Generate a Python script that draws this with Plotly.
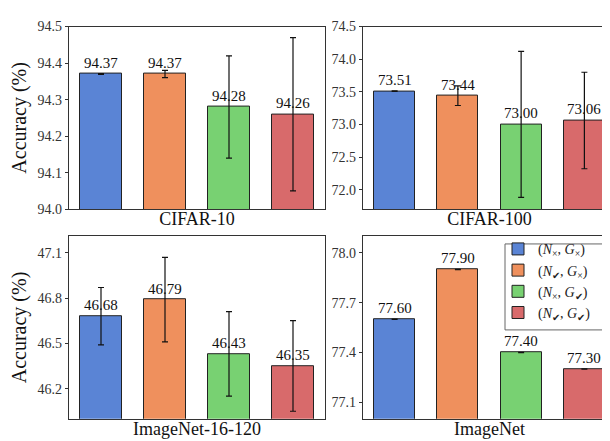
import plotly.graph_objects as go

W, H = 610, 441

datasets = ["CIFAR-10", "CIFAR-100", "ImageNet-16-120", "ImageNet"]
configs = ["(<i>N</i><sub>×</sub>, <i>G</i><sub>×</sub>)",
           "(<i>N</i><sub>✔</sub>, <i>G</i><sub>×</sub>)",
           "(<i>N</i><sub>×</sub>, <i>G</i><sub>✔</sub>)",
           "(<i>N</i><sub>✔</sub>, <i>G</i><sub>✔</sub>)"]
colors = ["#5a84d5", "#ef905d", "#78d172", "#d86a6b"]

cifar10_mean = [94.37, 94.37, 94.28, 94.26]
cifar10_std = [0.001, 0.01, 0.14, 0.21]
cifar100_mean = [73.51, 73.44, 73.00, 73.06]
cifar100_std = [0.005, 0.15, 1.12, 0.74]
in16_mean = [46.68, 46.79, 46.43, 46.35]
in16_std = [0.19, 0.28, 0.28, 0.30]
imagenet_mean = [77.60, 77.90, 77.40, 77.30]
imagenet_std = [0.001, 0.001, 0.001, 0.001]

means = [cifar10_mean, cifar100_mean, in16_mean, imagenet_mean]
stds = [cifar10_std, cifar100_std, in16_std, imagenet_std]
yranges = [[94.0, 94.5], [71.7, 74.5], [46.0, 47.21], [77.0, 78.1]]
ytickvals = [[94.0, 94.1, 94.2, 94.3, 94.4, 94.5],
             [72.0, 72.5, 73.0, 73.5, 74.0, 74.5],
             [46.2, 46.5, 46.8, 47.1],
             [77.1, 77.4, 77.7, 78.0]]

# panel pixel boxes (x0, x1, ytop, ybottom)
boxes = [(61, 317, 12, 201), (355, 608, 12, 201),
         (61, 317, 229, 418), (355, 608, 229, 418)]

FONT = "Liberation Serif"

fig = go.Figure()
layout = dict(width=W, height=H, margin=dict(l=0, r=0, t=0, b=0),
              paper_bgcolor="white", plot_bgcolor="white",
              font=dict(family=FONT, color="#222"),
              barmode="overlay", bargap=0)
annotations = []

for p in range(4):
    xa = "x" if p == 0 else f"x{p+1}"
    ya = "y" if p == 0 else f"y{p+1}"
    for i in range(4):
        fig.add_trace(go.Bar(
            x=[i], y=[means[p][i]], width=0.65,
            marker=dict(color=colors[i], line=dict(color="#222", width=1)),
            error_y=dict(type="data", array=[stds[p][i]], visible=True,
                         color="#111", thickness=1.2, width=3),
            name=configs[i], legendgroup=configs[i],
            showlegend=(p == 0),
            xaxis=xa, yaxis=ya,
        ))
        annotations.append(dict(x=i, y=means[p][i], xref=xa, yref=ya,
                                text=f"{means[p][i]:.2f}", showarrow=False,
                                yanchor="bottom", yshift=1,
                                font=dict(family=FONT, size=15, color="#111")))
    x0, x1, yt, yb = boxes[p]
    xkey = "xaxis" if p == 0 else f"xaxis{p+1}"
    ykey = "yaxis" if p == 0 else f"yaxis{p+1}"
    layout[xkey] = dict(domain=[x0 / W, x1 / W], range=[-0.5, 3.5],
                        showticklabels=False, ticks="", showgrid=False,
                        zeroline=False, showline=True, linecolor="#333",
                        linewidth=1.2, mirror=True, anchor=ya,
                        title=dict(text=datasets[p], standoff=3,
                                   font=dict(family=FONT, size=18, color="#111")))
    layout[ykey] = dict(domain=[1 - yb / H, 1 - yt / H], range=yranges[p],
                        tickvals=ytickvals[p], tickformat=".1f",
                        ticks="outside", ticklen=3, tickcolor="#333",
                        tickfont=dict(family=FONT, size=14, color="#333"),
                        showgrid=False, zeroline=False, showline=True,
                        linecolor="#333", linewidth=1.2, mirror=True,
                        anchor=xa)
    if p in (0, 2):
        layout[ykey]["title"] = dict(text="Accuracy (%)", standoff=5,
                                     font=dict(family=FONT, size=20, color="#111"))

layout["annotations"] = annotations
# legend frame drawn as a paper-anchored box
layout["shapes"] = [dict(type="rect", xref="paper", yref="paper",
                         x0=497 / W, x1=604 / W, y0=1 - 326 / H, y1=1 - 237 / H,
                         line=dict(color="#666", width=1), fillcolor="white",
                         layer="above")]
layout["legend"] = dict(x=490 / W, y=1 - 226 / H, xanchor="left", yanchor="top",
                        bgcolor="rgba(0,0,0,0)", borderwidth=0,
                        font=dict(family=FONT, size=14, color="#222"),
                        tracegroupgap=0, itemwidth=30)
fig.update_layout(**layout)
fig.write_html("out.html")
